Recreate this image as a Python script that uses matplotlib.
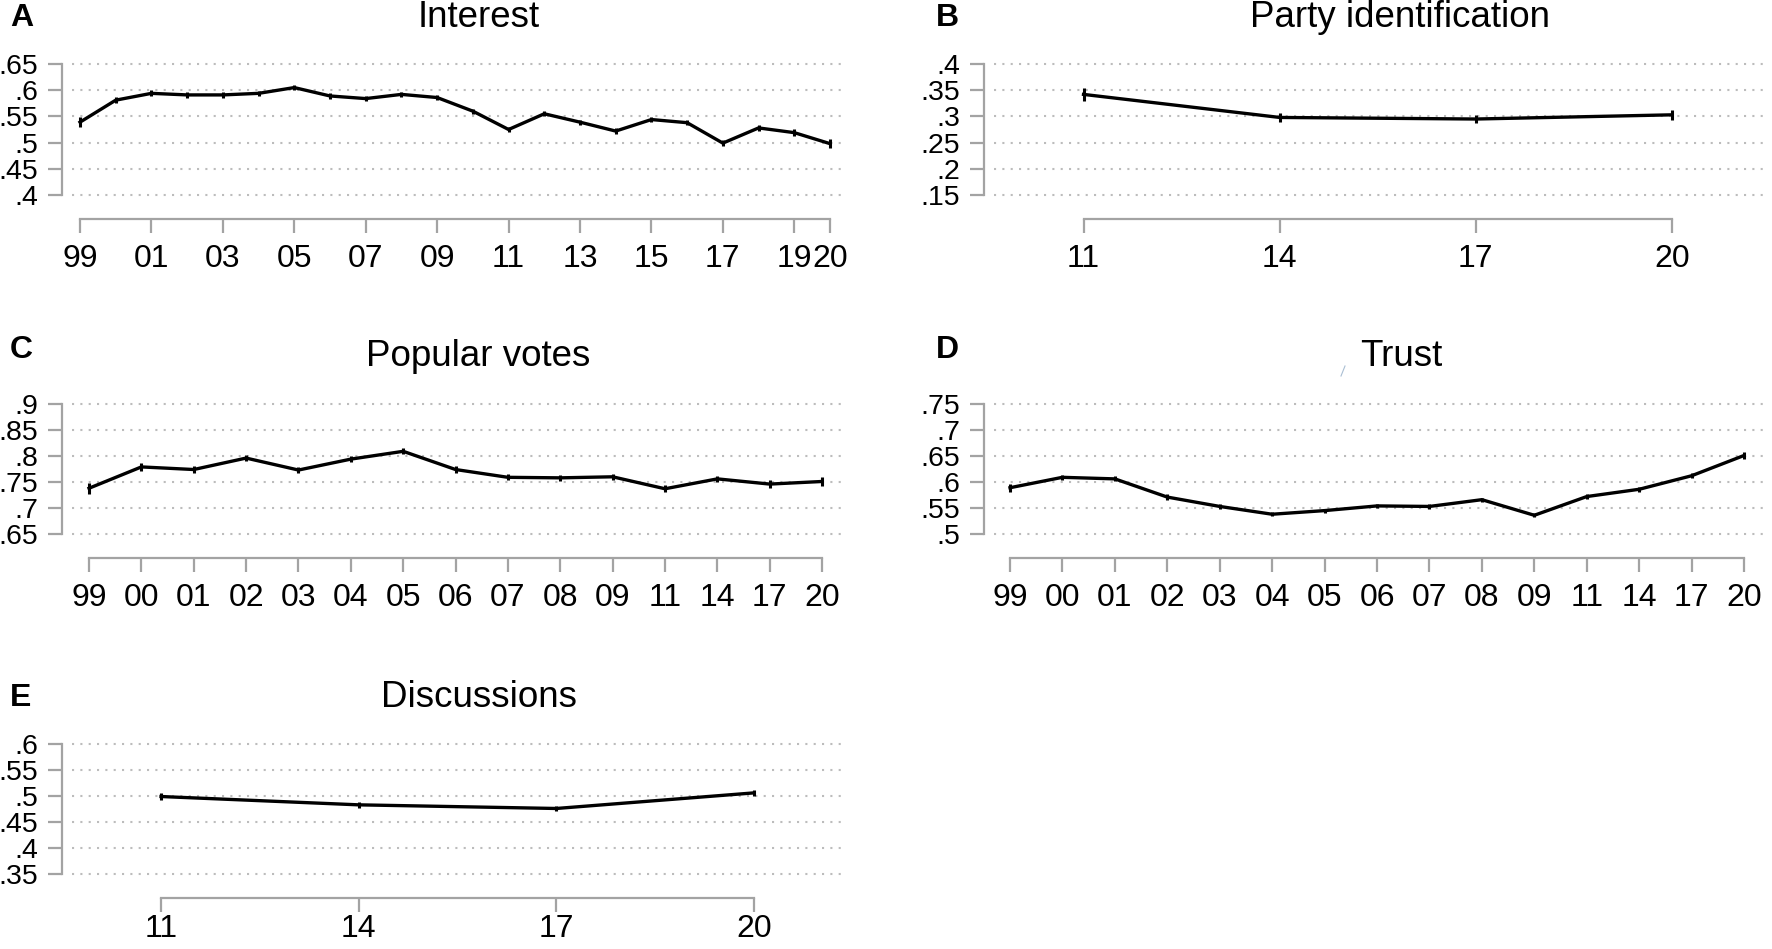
#!/usr/bin/env python3
''' Five small trend panels (A-E), Stata-like look. '''


import numpy as np
import matplotlib
matplotlib.use('Agg')
import matplotlib.pyplot as plt
from matplotlib.lines import Line2D

plt.rcParams['font.family'] = ['Liberation Sans', 'DejaVu Sans']

# A - Interest, yearly 1999-2020
interest_years = list(range(1999, 2021))
interest = [0.539, 0.581, 0.594, 0.591, 0.591, 0.594, 0.605, 0.589, 0.584, 0.592, 0.586,
	0.560, 0.525, 0.555, 0.539, 0.522, 0.544, 0.538, 0.499, 0.528, 0.519, 0.498]
interest_err = [0.010, 0.006, 0.006, 0.005, 0.005, 0.005, 0.005, 0.005, 0.005, 0.005, 0.005,
	0.005, 0.005, 0.005, 0.005, 0.005, 0.005, 0.005, 0.006, 0.005, 0.006, 0.008]
interest_ticks = [1999, 2001, 2003, 2005, 2007, 2009, 2011, 2013, 2015, 2017, 2019, 2020]

# B - Party identification
party_years = [2011, 2014, 2017, 2020]
party = [0.342, 0.298, 0.295, 0.303]
party_err = [0.012, 0.009, 0.008, 0.009]

# C / D - waves shown as evenly spaced categories
waves = ['99', '00', '01', '02', '03', '04', '05', '06', '07', '08', '09', '11', '14', '17', '20']
votes = [0.738, 0.779, 0.774, 0.796, 0.773, 0.794, 0.809, 0.774, 0.759, 0.758, 0.760,
	0.737, 0.756, 0.746, 0.751]
votes_err = [0.011, 0.007, 0.006, 0.006, 0.006, 0.006, 0.006, 0.006, 0.006, 0.006, 0.006,
	0.007, 0.006, 0.007, 0.009]
trust = [0.589, 0.609, 0.606, 0.571, 0.553, 0.538, 0.545, 0.554, 0.553, 0.566, 0.536,
	0.572, 0.586, 0.612, 0.651]
trust_err = [0.008, 0.005, 0.005, 0.005, 0.005, 0.004, 0.004, 0.004, 0.004, 0.004, 0.004,
	0.005, 0.005, 0.005, 0.007]

# E - Discussions
disc_years = [2011, 2014, 2017, 2020]
disc = [0.499, 0.483, 0.476, 0.506]
disc_err = [0.0065, 0.006, 0.0055, 0.006]

W, H = 1772, 949
GRAY = '#a3a3a3'
GRID = '#bcbcbc'


def short_num(v):
	'''.65 style label, no leading zero.'''
	return f'{v:.2f}'.rstrip('0').lstrip('0')


def panel(fig, box, xlim, ylim, x, y, err, xticks, xlabels, xpad=8):
	'''box is pixel box of the plot region (left, top, right, bottom).'''
	x0, y0, x1, y1 = box
	ax = fig.add_axes([x0 / W, 1 - y1 / H, (x1 - x0) / W, (y1 - y0) / H])
	ax.set_xlim(*xlim)
	ax.set_ylim(*ylim)
	yticks = np.round(np.arange(ylim[0], ylim[1] + 0.001, 0.05), 2)
	for v in yticks:
		ax.axhline(v, xmin=10 / (x1 - x0), xmax=1, color=GRID, lw=1.5,
			ls=(0, (1, 3)), zorder=0, clip_on=False)
	ax.errorbar(x, y, yerr=err, color='k', lw=2.4, elinewidth=2.2, capsize=0, zorder=3)
	ax.set_yticks(yticks)
	ax.set_yticklabels([short_num(v) for v in yticks])
	ax.set_xticks(xticks)
	ax.set_xticklabels(xlabels)
	for s in ['top', 'right']:
		ax.spines[s].set_visible(False)
	for s in ['left', 'bottom']:
		ax.spines[s].set_color(GRAY)
		ax.spines[s].set_linewidth(1.6)
	ax.spines['left'].set_bounds(ylim[0], ylim[1])
	ax.spines['bottom'].set_bounds(xticks[0], xticks[-1])
	ax.spines['bottom'].set_position(('outward', 17.3))
	ax.tick_params(axis='both', length=10, width=1.6, color=GRAY)
	ax.tick_params(axis='y', labelsize=20.5, pad=7)
	ax.tick_params(axis='x', labelsize=23, pad=xpad)
	ax.set_facecolor('none')
	return ax


fig = plt.figure(figsize=(W / 100, H / 100), dpi=100)

# A
panel(fig, (62, 64, 842, 195), (1998.496, 2020.336), (0.40, 0.65),
	interest_years, interest, interest_err,
	interest_ticks, [str(t)[2:] for t in interest_ticks])
# B
panel(fig, (984, 64, 1767, 195), (2009.478, 2021.453), (0.15, 0.40),
	party_years, party, party_err, party_years, [str(t)[2:] for t in party_years])
# C
pos = np.arange(len(waves))
panel(fig, (62, 404, 842, 534), (-0.516, 14.38), (0.65, 0.90),
	pos, votes, votes_err, list(pos), waves)
# D
panel(fig, (984, 404, 1765, 534), (-0.496, 14.40), (0.50, 0.75),
	pos, trust, trust_err, list(pos), waves)
# E (labels sit right at the bottom edge, pulled up a little to stay inside)
panel(fig, (62, 744, 842, 874), (2009.497, 2021.336), (0.35, 0.60),
	disc_years, disc, disc_err, disc_years, [str(t)[2:] for t in disc_years], xpad=1.5)

titles = [('Interest', 479, 27), ('Party identification', 1400, 27),
	('Popular votes', 478, 366), ('Trust', 1401, 366), ('Discussions', 479, 707)]
for t, px, py in titles:
	fig.text(px / W, 1 - py / H, t, ha='center', va='baseline', fontsize=26.5)

letters = [('A', 10, 26), ('B', 936, 26), ('C', 10, 358), ('D', 936, 358), ('E', 10, 706)]
for t, px, py in letters:
	fig.text(px / W, 1 - py / H, t, ha='left', va='baseline', fontsize=23, fontweight='bold')

# small stray stroke next to the Trust title
fig.add_artist(Line2D([1341 / W, 1345 / W], [1 - 376 / H, 1 - 366 / H],
	transform=fig.transFigure, color='#a9bed3', lw=0.8))

fig.savefig('out.png', dpi=100)
